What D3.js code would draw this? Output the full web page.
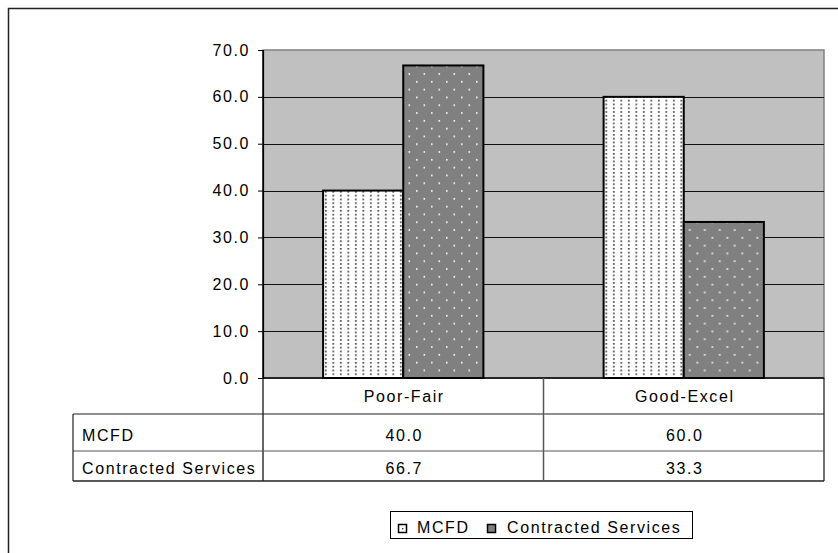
<!DOCTYPE html>
<html>
<head>
<meta charset="utf-8">
<script src="https://cdn.jsdelivr.net/npm/d3@7"></script>
<style>
  html, body { margin: 0; padding: 0; background: #fff; }
  svg { display: block; font-family: "Liberation Sans", Arial, sans-serif; }
  text { letter-spacing: 1.6px; }
</style>
</head>
<body>
<svg id="chart" width="838" height="553"></svg>
<script>
// Chart data
const categories = ["Poor-Fair", "Good-Excel"];
const seriesNames = ["MCFD", "Contracted Services"];
const mcfdValues = [40.0, 60.0];
const contractedValues = [66.7, 33.3];
const yTicks = [0, 10, 20, 30, 40, 50, 60, 70];

const seriesValues = [mcfdValues, contractedValues];
const FONT = 16;

const svg = d3.select("#chart");
const defs = svg.append("defs");

// Fill patterns: white with dark dots, and dark gray with light dots
const pLight = defs.append("pattern")
  .attr("id", "dotsLight").attr("patternUnits", "userSpaceOnUse")
  .attr("width", 7.5).attr("height", 3.8);
pLight.append("rect").attr("width", 7.5).attr("height", 3.8).attr("fill", "#fff");
pLight.append("rect").attr("x", 2).attr("y", 1).attr("width", 1.6).attr("height", 1.6).attr("fill", "#333");

const pDark = defs.append("pattern")
  .attr("id", "dotsDark").attr("patternUnits", "userSpaceOnUse")
  .attr("width", 15).attr("height", 15.6);
pDark.append("rect").attr("width", 15).attr("height", 15.6).attr("fill", "#808080");
pDark.append("rect").attr("x", 3).attr("y", 3).attr("width", 1.6).attr("height", 1.6).attr("fill", "#fff");
pDark.append("rect").attr("x", 10.5).attr("y", 10.8).attr("width", 1.6).attr("height", 1.6).attr("fill", "#fff");

const fills = ["url(#dotsLight)", "url(#dotsDark)"];

// Outer chart frame (extends past the window on right and bottom)
svg.append("path")
  .attr("d", "M8.5,560 L8.5,8.5 L845,8.5")
  .attr("fill", "none").attr("stroke", "#222").attr("stroke-width", 1.5);

// Geometry
const plotLeft = 263, plotRight = 824, plotTop = 50, plotBottom = 378;
const rowH = [plotBottom, 414, 451, 481];
const tableLeft = 73;

const x0 = d3.scaleBand().domain(categories).range([plotLeft, plotRight]).padding(0);
const x1 = d3.scaleBand().domain(seriesNames).range([0, x0.bandwidth()])
  .paddingInner(0).paddingOuter(0.75);
const y = d3.scaleLinear().domain([0, 70]).range([plotBottom, plotTop]);

// Plot area background
svg.append("rect")
  .attr("x", plotLeft).attr("y", plotTop)
  .attr("width", plotRight - plotLeft).attr("height", plotBottom - plotTop)
  .attr("fill", "#c0c0c0").attr("stroke", "#808080").attr("stroke-width", 1.5);

// Gridlines
svg.append("g").selectAll("line")
  .data(yTicks.filter(t => t > 0 && t < 70))
  .join("line")
  .attr("x1", plotLeft).attr("x2", plotRight)
  .attr("y1", d => Math.round(y(d)) + 0.5).attr("y2", d => Math.round(y(d)) + 0.5)
  .attr("stroke", "#111").attr("stroke-width", 1);

// Bars
const groups = svg.append("g").selectAll("g")
  .data(categories)
  .join("g")
  .attr("transform", d => `translate(${x0(d)},0)`);

groups.selectAll("rect")
  .data((d, i) => seriesNames.map((s, j) => ({ s, j, v: seriesValues[j][i] })))
  .join("rect")
  .attr("x", d => x1(d.s))
  .attr("y", d => y(d.v))
  .attr("width", x1.bandwidth())
  .attr("height", d => y(0) - y(d.v))
  .attr("fill", d => fills[d.j])
  .attr("stroke", "#000").attr("stroke-width", 2);

// Y axis
const yAxis = d3.axisLeft(y).tickValues(yTicks).tickFormat(d3.format(".1f")).tickSize(5).tickPadding(8);
const yg = svg.append("g").attr("transform", `translate(${plotLeft},0)`).call(yAxis);
yg.select(".domain").attr("stroke", "#000").attr("stroke-width", 1.2);
yg.selectAll(".tick line").attr("stroke", "#000");
yg.selectAll(".tick text").attr("font-size", FONT).attr("fill", "#000")
  .attr("font-family", "Liberation Sans, Arial, sans-serif");

// Data table
const table = svg.append("g");
const line = (xa, ya, xb, yb, c, w) => table.append("line")
  .attr("x1", xa).attr("y1", ya).attr("x2", xb).attr("y2", yb)
  .attr("stroke", c).attr("stroke-width", w);

line(plotLeft, plotBottom, plotRight, plotBottom, "#000", 1.5);
line(plotLeft, plotTop, plotLeft, rowH[3], "#000", 1.2);
line(plotRight, plotBottom, plotRight, rowH[3], "#111", 1.2);
line(tableLeft, rowH[1], plotRight, rowH[1], "#222", 1.2);
line(tableLeft, rowH[2], plotRight, rowH[2], "#555", 1.2);
line(tableLeft, rowH[3], plotRight, rowH[3], "#222", 1.5);
line(tableLeft, rowH[1], tableLeft, rowH[3], "#222", 1.2);
categories.slice(1).forEach(c => line(x0(c), plotBottom, x0(c), rowH[3], "#555", 1.5));

// Category headers
table.selectAll("text.cat")
  .data(categories)
  .join("text")
  .attr("class", "cat")
  .attr("x", d => x0(d) + x0.bandwidth() / 2 + 1)
  .attr("y", (rowH[0] + rowH[1]) / 2 + 6)
  .attr("text-anchor", "middle")
  .attr("font-size", FONT)
  .text(d => d);

// Row labels and values
seriesNames.forEach((s, j) => {
  const yc = (rowH[j + 1] + rowH[j + 2]) / 2 + 8;
  table.append("text")
    .attr("x", tableLeft + 9).attr("y", yc)
    .attr("font-size", FONT)
    .text(s);
  table.selectAll(null)
    .data(categories)
    .join("text")
    .attr("x", d => x0(d) + x0.bandwidth() / 2 + 1)
    .attr("y", yc)
    .attr("text-anchor", "middle")
    .attr("font-size", FONT)
    .text((d, i) => d3.format(".1f")(seriesValues[j][i]));
});

// Legend
const legend = svg.append("g");
legend.append("rect")
  .attr("x", 390.5).attr("y", 511.5).attr("width", 302).attr("height", 27)
  .attr("fill", "#fff").attr("stroke", "#000").attr("stroke-width", 1);

const legendItems = [
  { name: seriesNames[0], fill: "#fff", dot: "#333", sx: 398, tx: 417 },
  { name: seriesNames[1], fill: "#808080", dot: null, sx: 487, tx: 507 }
];
legendItems.forEach(it => {
  legend.append("rect")
    .attr("x", it.sx + 0.5).attr("y", 524.5).attr("width", 8).attr("height", 8)
    .attr("fill", it.fill).attr("stroke", "#000").attr("stroke-width", 1.5);
  if (it.dot) {
    legend.append("rect").attr("x", it.sx + 4).attr("y", 528).attr("width", 1.4).attr("height", 1.4)
      .attr("fill", it.dot);
  }
  legend.append("text")
    .attr("x", it.tx).attr("y", 533)
    .attr("font-size", FONT)
    .text(it.name);
});
</script>
</body>
</html>
